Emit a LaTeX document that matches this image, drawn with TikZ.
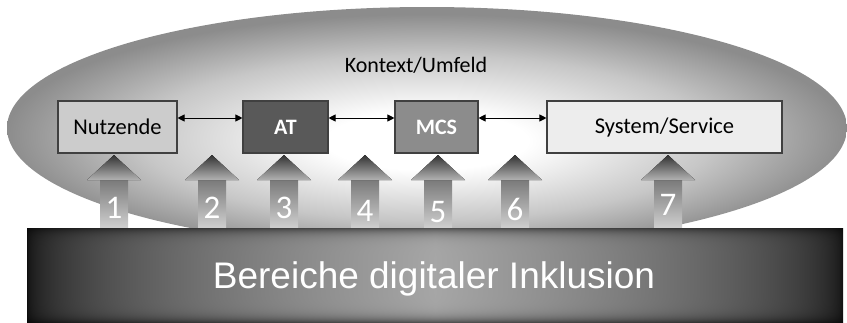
\documentclass[tikz,border=0pt]{standalone}
\usepackage{fontspec}
\setmainfont{Carlito}
\newfontfamily\arialf{Liberation Sans}
\usetikzlibrary{arrows.meta,shapes.geometric}
\pgfdeclareradialshading{ellsh}{\pgfpoint{0bp}{-3bp}}{color(0bp)=(white); color(6bp)=(white); color(17bp)=(black!22); color(25bp)=(black!45); color(50bp)=(black!45)}
\pgfdeclarefunctionalshading{barsh}{\pgfpointorigin}{\pgfpoint{100bp}{100bp}}{}{
 50 sub 25 div dup mul dup mul dup mul 1 exch sub 0.5 mul 0.5 add
 exch 50 sub abs 25 div 1 exch sub abs sqrt 0.6 mul 0.05 add mul dup dup
}
\begin{document}
\begin{tikzpicture}[x=1pt,y=-1pt,
  box/.style={draw=black!75, line width=1.1pt, minimum height=52pt, inner sep=0pt,
    font=\fontsize{22.5}{26}\selectfont},
  boldbox/.style={box, text=white, font=\bfseries\fontsize{22}{26}\selectfont},
  link/.style={{Triangle[length=7pt,width=7pt]}-{Triangle[length=7pt,width=7pt]}, line width=0.9pt, black},
  fathead/.style={top color=black!80, bottom color=black!30},
  fatshaft/.style={top color=black!52, bottom color=black!18},
  num/.style={text=white, font=\fontsize{33}{36}\selectfont, inner sep=0pt}]
\useasboundingbox (0,0) rectangle (847,322);
\node[ellipse, shade, shading=ellsh, minimum width=840pt, minimum height=242pt, inner sep=0pt] (ctx) at (427,128) {};
\node[font=\fontsize{22}{26}\selectfont] (ctxlbl) at (416,65) {Kontext/Umfeld};
\node[box, fill=black!20, minimum width=119pt] (nut) at (117.5,127) {Nutzende};
\node[boldbox, fill=black!65, minimum width=85pt] (atb) at (285.5,127) {AT};
\node[boldbox, fill=black!45, minimum width=83pt] (mcs) at (436.5,127) {MCS};
\node[box, fill=black!7, minimum width=235pt] (sys) at (664.5,127) {System/Service};
\draw[link] ([yshift=9pt]nut.east) -- ([yshift=9pt]atb.west);
\draw[link] ([yshift=9pt]atb.east) -- ([yshift=9pt]mcs.west);
\draw[link] ([yshift=9pt]mcs.east) -- ([yshift=9pt]sys.west);
\foreach \x/\n/\ny in {114/1/208, 212/2/208, 284/3/208, 365/4/211, 438/5/212, 515/6/209, 668/7/205}{
  \fill[fatshaft] (\x-14,180) rectangle (\x+14,229);
  \fill[fathead] (\x,155) -- (\x+27,180) -- (\x-27,180) -- cycle;
  \node[num] (n\n) at (\x,\ny) {\n};
}
\node[shade, shading=barsh, minimum width=816pt, minimum height=94pt, inner sep=0pt] (bar) at (435,275) {};
\node[anchor=base, text=white, inner sep=0pt, font=\arialf\fontsize{37}{40}\selectfont] (lbl) at (434,288) {Bereiche digitaler Inklusion};
\end{tikzpicture}
\end{document}
